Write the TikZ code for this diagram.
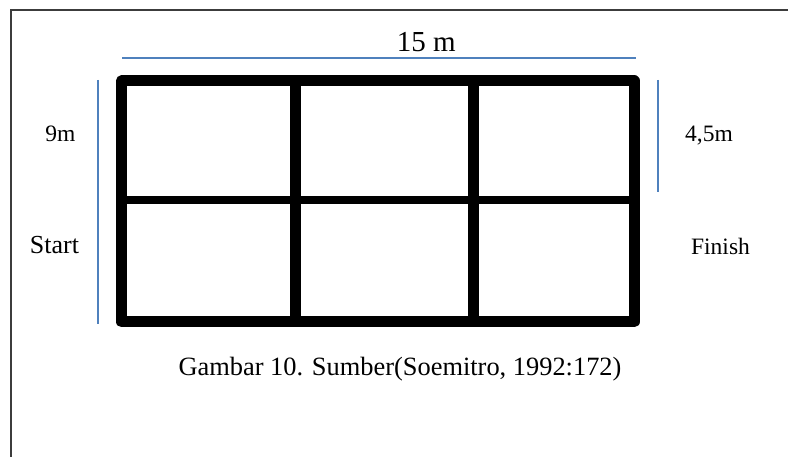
\documentclass[tikz,border=0pt]{standalone}
\usepackage{fontspec}
\setmainfont{Liberation Serif}
\definecolor{dimblue}{RGB}{79,129,189}
\definecolor{framegray}{RGB}{60,60,60}
\begin{document}
\begin{tikzpicture}[x=1pt,y=-1pt,
  gridline/.style={line width=11pt,line join=round,line cap=butt},
  midline/.style={line width=8pt},
  dimline/.style={draw=dimblue,line width=1.5pt},
  lbl/.style={anchor=base,inner sep=0pt,font=\fontsize{23.5}{26}\selectfont},
  captext/.style={anchor=base,inner sep=0pt,font=\fontsize{26.4}{29}\selectfont}]
\useasboundingbox (0,0) rectangle (788,457);
\fill[white] (0,0) rectangle (788,457);
% frame
\draw[framegray,line width=1.8pt] (11,460) -- (11,10) -- (790,10);
% grid
\coordinate (tl) at (121.5,81);
\coordinate (br) at (634,322);
\draw[gridline] (tl) rectangle (br);
\draw[gridline] (295.5,81) -- (295.5,322);
\draw[gridline] (473.5,81) -- (473.5,322);
\draw[midline] (121.5,200.5) -- (634,200.5);
% dimension lines
\coordinate (t1) at (122,58); \coordinate (t2) at (636,58);
\draw[dimline] (t1) -- (t2);
\coordinate (l1) at (98,80); \coordinate (l2) at (98,324);
\draw[dimline] (l1) -- (l2);
\coordinate (r1) at (658,80); \coordinate (r2) at (658,192);
\draw[dimline] (r1) -- (r2);
% labels
\node[anchor=base,inner sep=0pt,font=\fontsize{29}{32}\selectfont] (w) at (426.4,51.7) {15 m};
\node[lbl] (h) at (60.5,142) {9m};
\node[lbl,font=\fontsize{26}{29}\selectfont] (st) at (54.5,253.3) {Start};
\node[lbl] (hw) at (709,141.7) {4,5m};
\node[lbl] (fi) at (720.5,254.3) {Finish};
\node[captext] (c) at (400,375) {Gambar 10. Sumber(Soemitro, 1992:172)};
\end{tikzpicture}
\end{document}
